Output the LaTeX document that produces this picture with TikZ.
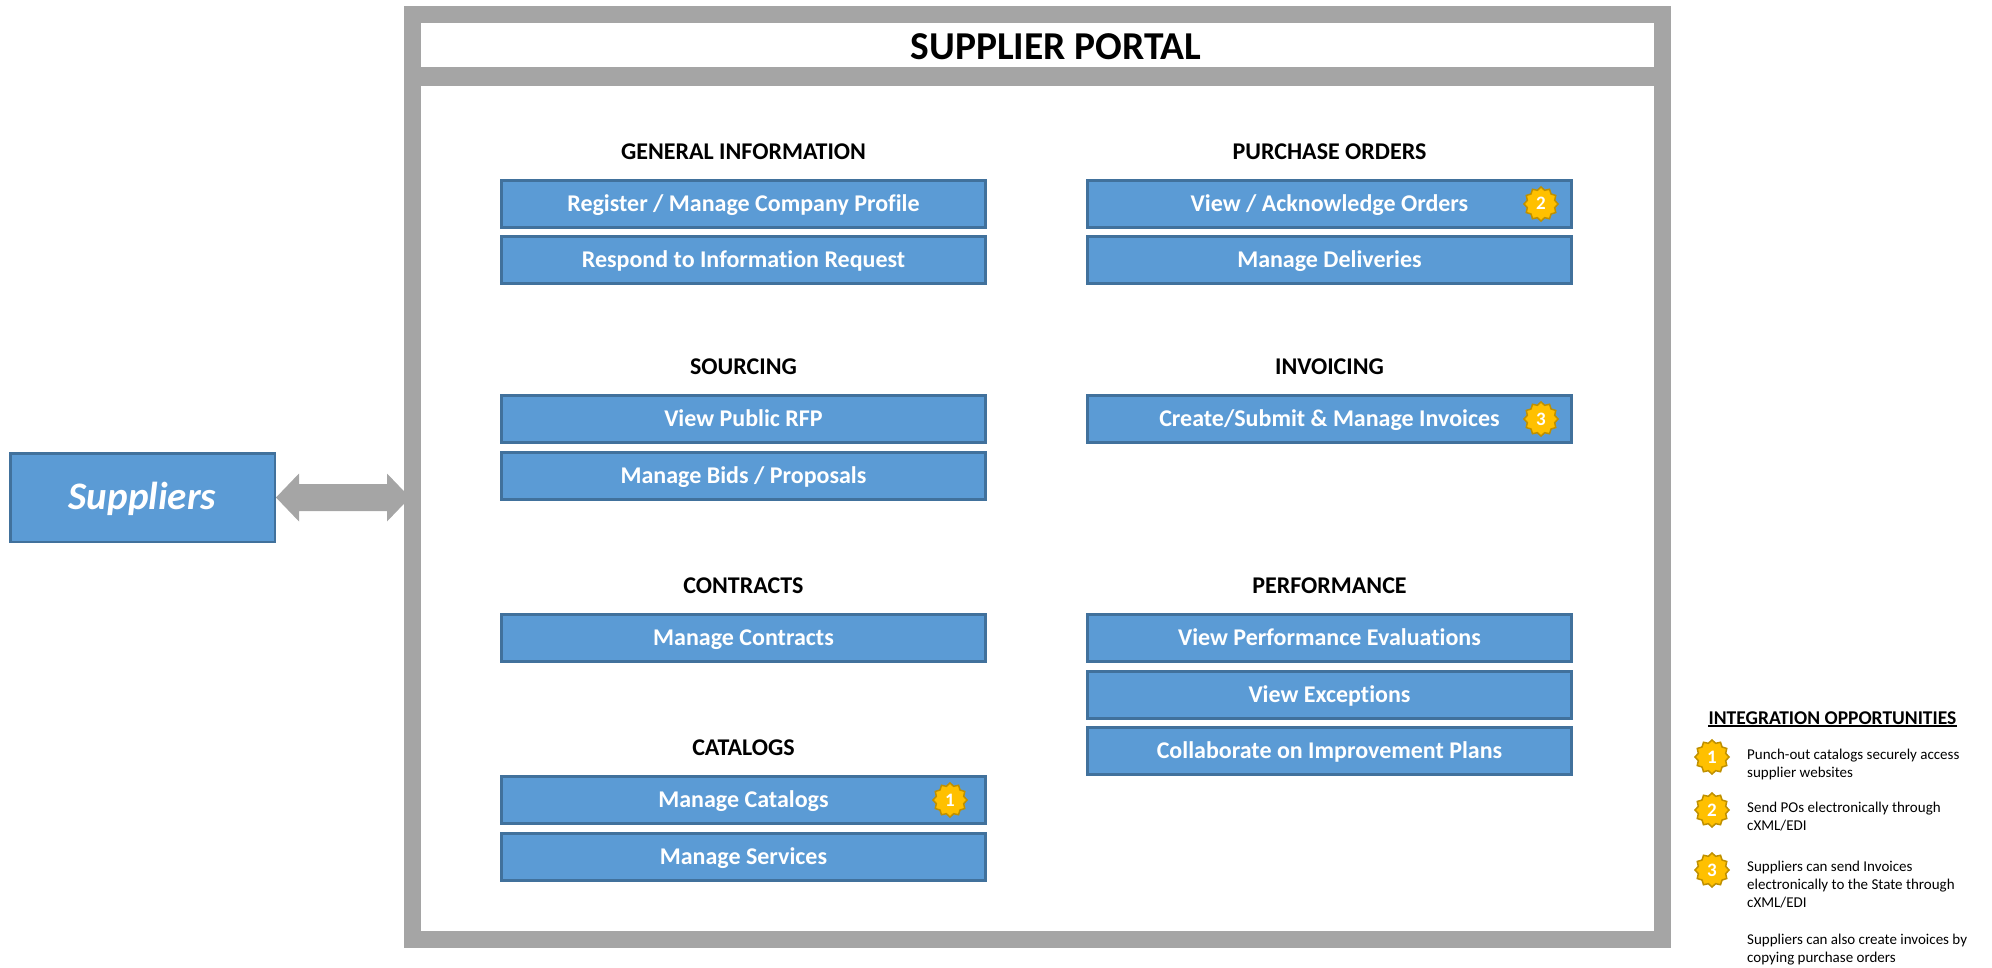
\documentclass[tikz,border=0pt]{standalone}
\usepackage{fontspec}
\setmainfont{Carlito}[Ligatures=NoCommon]
\usetikzlibrary{shapes.geometric,calc}
\definecolor{boxblue}{HTML}{5B9BD5}
\definecolor{boxedge}{HTML}{41719C}
\definecolor{portalgray}{HTML}{A5A5A5}
\definecolor{badgegold}{HTML}{FFC000}
\definecolor{badgeedge}{HTML}{BF9000}
\pgfdeclarelayer{bg}
\pgfsetlayers{bg,main}
\begin{document}
\begin{tikzpicture}[x=1pt,y=-1pt,
  func/.style={draw=boxedge, line width=3pt, fill=boxblue, minimum width=484pt,
    minimum height=47pt, inner sep=0pt, text=white,
    font=\fontsize{24}{28}\selectfont\bfseries, text height=15pt, text depth=0pt},
  head/.style={anchor=base, inner sep=0pt, font=\fontsize{24}{28}\selectfont\bfseries},
  badge/.style={star, star points=12, star point ratio=1.2, minimum size=34pt,
    inner sep=0pt, fill=badgegold, draw=badgeedge, line width=1.5pt, text=white,
    font=\fontsize{19}{20}\selectfont\bfseries, text height=12pt, text depth=0pt},
  legtext/.style={anchor=base west, inner sep=0pt, font=\fontsize{15}{18.3}\selectfont},
]
\useasboundingbox (0,0) rectangle (1992,968);

% portal frame
\node[draw=portalgray, line width=17pt, minimum width=1250pt, minimum height=925pt,
  inner sep=0pt] (portal) at (1037.5,477) {};
\fill[portalgray] (412.5,67) rectangle (1662.5,86);
\node[anchor=base, inner sep=0pt, font=\fontsize{39.5}{42}\selectfont\bfseries]
  (title) at (1056,59.5) {SUPPLIER PORTAL};

% suppliers
\node[draw=boxedge, line width=2.5pt, fill=boxblue, minimum width=264.5pt,
  minimum height=88.5pt, inner sep=0pt, text=white,
  font=\fontsize{39}{41}\selectfont\bfseries\itshape, text height=24.5pt, text depth=0pt]
  (sup) at (142.5,497.5) {Suppliers};

\begin{pgfonlayer}{bg}
\fill[portalgray] (sup.east) -- ++(23,-24) -- ++(0,10.5)
  -- ($(sup.east -| portal.west)+(-17,-13.5)$) -- ++(0,-10.5)
  -- ($(sup.east -| portal.west)+(6,0)$) -- ++(-23,24) -- ++(0,-10.5)
  -- ($(sup.east)+(23,13.5)$) -- ++(0,10.5) -- cycle;
\end{pgfonlayer}

% left column
\node[head] (hgi) at (743.5,159.5) {GENERAL INFORMATION};
\node[func] (reg) at (743.5,204) {Register / Manage Company Profile};
\node[func] (rfi) at (743.5,260.5) {Respond to Information Request};
\node[head] (hsrc) at (743.5,374.5) {SOURCING};
\node[func] (rfp) at (743.5,419) {View Public RFP};
\node[func] (bids) at (743.5,475.5) {Manage Bids / Proposals};
\node[head] (hcon) at (743.5,593.5) {CONTRACTS};
\node[func] (con) at (743.5,638) {Manage Contracts};
\node[head] (hcat) at (743.5,755.5) {CATALOGS};
\node[func] (cat) at (743.5,800) {Manage Catalogs};
\node[func] (srv) at (743.5,856.5) {Manage Services};

% right column
\node[head] (hpo) at (1329.5,159.5) {PURCHASE ORDERS};
\node[func] (ack) at (1329.5,204) {View / Acknowledge Orders};
\node[func] (del) at (1329.5,260.5) {Manage Deliveries};
\node[head] (hinv) at (1329.5,374.5) {INVOICING};
\node[func] (inv) at (1329.5,419) {Create/Submit \& Manage Invoices};
\node[head] (hperf) at (1329.5,593.5) {PERFORMANCE};
\node[func] (eval) at (1329.5,638) {View Performance Evaluations};
\node[func] (exc) at (1329.5,694.5) {View Exceptions};
\node[func] (imp) at (1329.5,751) {Collaborate on Improvement Plans};

% badges in boxes
\node[badge] (bcat) at (950,800) {1};
\node[badge] (back) at (1541,204) {2};
\node[badge] (binv) at (1541,419) {3};

% legend
\node[anchor=base, inner sep=0pt, font=\fontsize{19.5}{22}\selectfont\bfseries]
  (legtitle) at (1832.5,724) {INTEGRATION OPPORTUNITIES};
\draw[line width=1.5pt] ([yshift=-2pt]legtitle.base west) -- ([yshift=-2pt]legtitle.base east);
\node[badge] (l1) at (1712,757) {1};
\node[badge] (l2) at (1712,810) {2};
\node[badge] (l3) at (1712,870) {3};
\node[legtext] (t1) at (1747,759) {\parbox[t]{260pt}{Punch-out catalogs securely access\\supplier websites}};
\node[legtext] (t2) at (1747,812) {\parbox[t]{260pt}{Send POs electronically through\\cXML/EDI}};
\node[legtext] (t3) at (1747,871) {\parbox[t]{260pt}{Suppliers can send Invoices\\electronically to the State through\\cXML/EDI}};
\node[legtext] (t4) at (1747,944) {\parbox[t]{260pt}{Suppliers can also create invoices by\\copying purchase orders}};
\end{tikzpicture}
\end{document}
